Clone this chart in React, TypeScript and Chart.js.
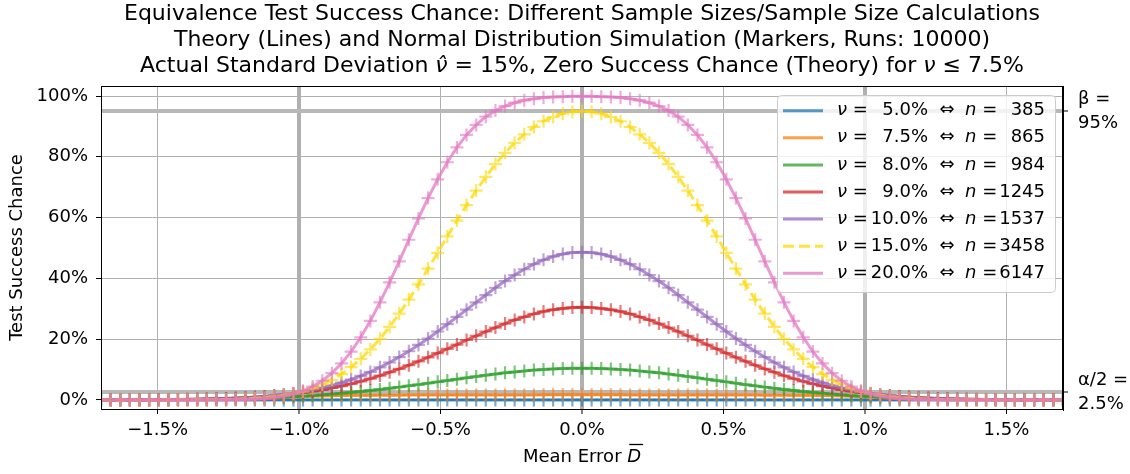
import React, { useEffect, useRef } from "react";
import { Chart, registerables } from "chart.js";

Chart.register(...registerables);

const FONT = "'DejaVu Sans', sans-serif";

// Mean error D (percent), sample points of theory lines and simulation markers
const xValues = [
  -1.7, -1.666, -1.632, -1.598, -1.564, -1.53, -1.496, -1.462, -1.428, -1.394,
  -1.36, -1.326, -1.292, -1.258, -1.224, -1.19, -1.156, -1.122, -1.088, -1.054,
  -1.02, -0.986, -0.952, -0.918, -0.884, -0.85, -0.816, -0.782, -0.748, -0.714,
  -0.68, -0.646, -0.612, -0.578, -0.544, -0.51, -0.476, -0.442, -0.408, -0.374,
  -0.34, -0.306, -0.272, -0.238, -0.204, -0.17, -0.136, -0.102, -0.068, -0.034,
  0,
  0.034, 0.068, 0.102, 0.136, 0.17, 0.204, 0.238, 0.272, 0.306, 0.34,
  0.374, 0.408, 0.442, 0.476, 0.51, 0.544, 0.578, 0.612, 0.646, 0.68,
  0.714, 0.748, 0.782, 0.816, 0.85, 0.884, 0.918, 0.952, 0.986, 1.02,
  1.054, 1.088, 1.122, 1.156, 1.19, 1.224, 1.258, 1.292, 1.326, 1.36,
  1.394, 1.428, 1.462, 1.496, 1.53, 1.564, 1.598, 1.632, 1.666, 1.7,
];

const xTicks = [-1.5, -1.0, -0.5, 0.0, 0.5, 1.0, 1.5];
const thickXTicks = [-1.0, 0.0, 1.0];
const yTicks = [0, 20, 40, 60, 80, 100];
const limitTicks = [2.5, 95];
const limitLabels = [["α/2 =", "2.5%"], ["β =", "95%"]];

const titleLine1 = "Equivalence Test Success Chance: Different Sample Sizes/Sample Size Calculations";
const titleLine2 = "Theory (Lines) and Normal Distribution Simulation (Markers, Runs: 10000)";

const nuLabels = ["5.0%", "7.5%", "8.0%", "9.0%", "10.0%", "15.0%", "20.0%"];
const nLabels = ["385", "865", "984", "1245", "1537", "3458", "6147"];
const seriesColors = [
  [31, 119, 180],
  [255, 127, 14],
  [44, 160, 44],
  [214, 39, 40],
  [148, 103, 189],
  [255, 215, 0],
  [227, 119, 194],
];
const seriesDashed = [false, false, false, false, false, true, false];

// Test success chance (%) per series
const nu5 = [
  0, 0, 0, 0, 0, 0, 0, 0, 0, 0, 0, 0, 0, 0, 0, 0, 0, 0, 0, 0, 0, 0, 0, 0, 0,
  0, 0, 0, 0, 0, 0, 0, 0, 0, 0, 0, 0, 0, 0, 0, 0, 0, 0, 0, 0, 0, 0, 0, 0, 0,
  0,
  0, 0, 0, 0, 0, 0, 0, 0, 0, 0, 0, 0, 0, 0, 0, 0, 0, 0, 0, 0, 0, 0, 0, 0, 0,
  0, 0, 0, 0, 0, 0, 0, 0, 0, 0, 0, 0, 0, 0, 0, 0, 0, 0, 0, 0, 0, 0, 0, 0, 0,
];

const nu75 = [
  0, 0, 0, 0, 0, 0, 0, 0, 0.01, 0.01, 0.02,
  0.04, 0.06, 0.09, 0.14, 0.2, 0.3, 0.4, 0.55, 0.75, 0.9,
  1.05, 1.2, 1.3, 1.4, 1.45, 1.5, 1.5, 1.5, 1.55, 1.55,
  1.55, 1.6, 1.6, 1.6, 1.6, 1.6, 1.6, 1.6, 1.6, 1.6,
  1.6, 1.6, 1.6, 1.6, 1.6, 1.65, 1.65, 1.7, 1.7,
  1.7,
  1.7, 1.7, 1.65, 1.65, 1.6, 1.6, 1.6, 1.6, 1.6,
  1.6, 1.6, 1.6, 1.6, 1.6, 1.6, 1.6, 1.6, 1.6, 1.55,
  1.55, 1.55, 1.5, 1.5, 1.5, 1.45, 1.4, 1.3, 1.2, 1.05,
  0.9, 0.75, 0.55, 0.4, 0.3, 0.2, 0.14, 0.09, 0.06, 0.04,
  0.02, 0.01, 0.01, 0, 0, 0, 0, 0, 0, 0, 0,
];

const nu8 = [
  0.02, 0.03, 0.03, 0.04, 0.05, 0.07, 0.08, 0.1, 0.13, 0.15, 0.18,
  0.22, 0.28, 0.33, 0.4, 0.48, 0.57, 0.68, 0.8, 0.93, 1.09,
  1.26, 1.46, 1.66, 1.92, 2.19, 2.46, 2.75, 3.12, 3.44, 3.81,
  4.2, 4.62, 5.02, 5.47, 5.93, 6.36, 6.8, 7.25, 7.7, 8.1,
  8.5, 8.9, 9.2, 9.5, 9.8, 10.0, 10.2, 10.3, 10.4,
  10.4,
  10.4, 10.3, 10.2, 10.0, 9.8, 9.5, 9.2, 8.9, 8.5,
  8.1, 7.7, 7.25, 6.8, 6.36, 5.93, 5.47, 5.02, 4.62, 4.2,
  3.81, 3.44, 3.12, 2.75, 2.46, 2.19, 1.92, 1.66, 1.46, 1.26,
  1.09, 0.93, 0.8, 0.68, 0.57, 0.48, 0.4, 0.33, 0.28, 0.22,
  0.18, 0.15, 0.13, 0.1, 0.08, 0.07, 0.05, 0.04, 0.03, 0.03, 0.02,
];

const nu9 = [
  0.02, 0.02, 0.03, 0.04, 0.05, 0.07, 0.09, 0.12, 0.15, 0.19, 0.24,
  0.3, 0.38, 0.47, 0.59, 0.73, 0.91, 1.11, 1.35, 1.64, 1.98,
  2.37, 2.82, 3.32, 3.91, 4.56, 5.3, 6.1, 7.0, 8.0, 9.1,
  10.2, 11.4, 12.7, 14.0, 15.4, 16.8, 18.2, 19.7, 21.1, 22.5,
  23.8, 25.1, 26.3, 27.3, 28.3, 29.1, 29.7, 30.1, 30.4,
  30.5,
  30.4, 30.1, 29.7, 29.1, 28.3, 27.3, 26.3, 25.1, 23.8,
  22.5, 21.1, 19.7, 18.2, 16.8, 15.4, 14.0, 12.7, 11.4, 10.2,
  9.1, 8.0, 7.0, 6.1, 5.3, 4.56, 3.91, 3.32, 2.82, 2.37,
  1.98, 1.64, 1.35, 1.11, 0.91, 0.73, 0.59, 0.47, 0.38, 0.3,
  0.24, 0.19, 0.15, 0.12, 0.09, 0.07, 0.05, 0.04, 0.03, 0.02, 0.02,
];

const nu10 = [
  0.01, 0.01, 0.02, 0.02, 0.03, 0.04, 0.06, 0.08, 0.1, 0.14, 0.19,
  0.25, 0.32, 0.42, 0.55, 0.7, 0.89, 1.12, 1.41, 1.75, 2.17,
  2.66, 3.25, 3.93, 4.73, 5.65, 6.7, 7.9, 9.2, 10.7, 12.3,
  14.1, 16.0, 18.1, 20.2, 22.5, 24.9, 27.3, 29.7, 32.1, 34.5,
  36.9, 39.1, 41.1, 43.0, 44.7, 46.1, 47.2, 48.0, 48.5,
  48.6,
  48.5, 48.0, 47.2, 46.1, 44.7, 43.0, 41.1, 39.1, 36.9,
  34.5, 32.1, 29.7, 27.3, 24.9, 22.5, 20.2, 18.1, 16.0, 14.1,
  12.3, 10.7, 9.2, 7.9, 6.7, 5.65, 4.73, 3.93, 3.25, 2.66,
  2.17, 1.75, 1.41, 1.12, 0.89, 0.7, 0.55, 0.42, 0.32, 0.25,
  0.19, 0.14, 0.1, 0.08, 0.06, 0.04, 0.03, 0.02, 0.02, 0.01, 0.01,
];

const nu15 = [
  0, 0, 0, 0, 0, 0, 0, 0.01, 0.01, 0.02, 0.04,
  0.06, 0.1, 0.15, 0.23, 0.34, 0.51, 0.74, 1.06, 1.5, 2.1,
  2.8, 3.8, 5.1, 6.6, 8.5, 10.8, 13.5, 16.6, 20.1, 24.0,
  28.4, 33.0, 38.0, 43.2, 48.4, 53.8, 59.0, 64.1, 68.9, 73.4,
  77.6, 81.3, 84.6, 87.4, 89.8, 91.7, 93.1, 94.2, 94.8,
  95.0,
  94.8, 94.2, 93.1, 91.7, 89.8, 87.4, 84.6, 81.3, 77.6,
  73.4, 68.9, 64.1, 59.0, 53.8, 48.4, 43.2, 38.0, 33.0, 28.4,
  24.0, 20.1, 16.6, 13.5, 10.8, 8.5, 6.6, 5.1, 3.8, 2.8,
  2.1, 1.5, 1.06, 0.74, 0.51, 0.34, 0.23, 0.15, 0.1, 0.06,
  0.04, 0.02, 0.01, 0.01, 0, 0, 0, 0, 0, 0, 0,
];

const nu20 = [
  0, 0, 0, 0, 0, 0, 0, 0, 0, 0, 0,
  0.01, 0.03, 0.05, 0.09, 0.16, 0.28, 0.47, 0.78, 1.25, 1.95,
  3.0, 4.4, 6.3, 8.8, 12.0, 15.9, 20.6, 26.0, 32.1, 38.7,
  45.6, 52.7, 59.7, 66.4, 72.6, 78.2, 83.1, 87.2, 90.5, 93.2,
  95.2, 96.7, 97.8, 98.6, 99.1, 99.5, 99.7, 99.8, 99.9,
  99.9,
  99.9, 99.8, 99.7, 99.5, 99.1, 98.6, 97.8, 96.7, 95.2,
  93.2, 90.5, 87.2, 83.1, 78.2, 72.6, 66.4, 59.7, 52.7, 45.6,
  38.7, 32.1, 26.0, 20.6, 15.9, 12.0, 8.8, 6.3, 4.4, 3.0,
  1.95, 1.25, 0.78, 0.47, 0.28, 0.16, 0.09, 0.05, 0.03, 0.01,
  0, 0, 0, 0, 0, 0, 0, 0, 0, 0, 0,
];

const seriesValues = [nu5, nu75, nu8, nu9, nu10, nu15, nu20];

const rgba = (c: number[], a: number) => `rgba(${c[0]},${c[1]},${c[2]},${a})`;

type Seg = [string, boolean];
function drawSegs(
  ctx: CanvasRenderingContext2D,
  segs: Seg[],
  x: number,
  y: number,
  align: "left" | "center" | "right",
  size: number
) {
  const fonts = segs.map(([, it]) => `${it ? "italic " : ""}${size}px ${FONT}`);
  const widths = segs.map(([t], i) => {
    ctx.font = fonts[i];
    return ctx.measureText(t).width;
  });
  const total = widths.reduce((a, b) => a + b, 0);
  let cx = align === "left" ? x : align === "center" ? x - total / 2 : x - total;
  const starts: number[] = [];
  ctx.textAlign = "left";
  ctx.textBaseline = "middle";
  segs.forEach(([t], i) => {
    ctx.font = fonts[i];
    starts.push(cx);
    ctx.fillText(t, cx, y);
    cx += widths[i];
  });
  return { starts, widths };
}

const overlayPlugin = {
  id: "overlay",
  afterDraw(chart: any) {
    const { ctx, chartArea: a } = chart;
    ctx.save();
    // axes frame
    ctx.strokeStyle = "#000";
    ctx.lineWidth = 1;
    ctx.strokeRect(a.left + 0.5, a.top + 0.5, a.right - a.left - 1, a.bottom - a.top);

    // title
    const cx = (a.left + a.right) / 2;
    ctx.fillStyle = "#000";
    drawSegs(ctx, [[titleLine1, false]], cx, 14, "center", 22);
    drawSegs(ctx, [[titleLine2, false]], cx, 40, "center", 22);
    drawSegs(
      ctx,
      [
        ["Actual Standard Deviation ", false],
        ["\u03bd\u0302", true],
        [" = 15%, Zero Success Chance (Theory) for ", false],
        ["\u03bd", true],
        [" \u2264 7.5%", false],
      ],
      cx,
      66,
      "center",
      22
    );

    // x-axis title
    const xt = drawSegs(ctx, [["Mean Error ", false], ["D", true]], cx, 457, "center", 18);
    ctx.beginPath();
    ctx.lineWidth = 1.3;
    ctx.moveTo(xt.starts[1] + 2, 444.5);
    ctx.lineTo(xt.starts[1] + xt.widths[1] + 2, 444.5);
    ctx.stroke();

    // legend
    const bx = a.right - 286;
    const by = a.top + 9;
    const bw = 278;
    const bh = 197;
    ctx.beginPath();
    ctx.roundRect(bx + 0.5, by + 0.5, bw, bh, 4);
    ctx.fillStyle = "rgba(255,255,255,0.8)";
    ctx.fill();
    ctx.strokeStyle = "#cccccc";
    ctx.lineWidth = 1;
    ctx.stroke();
    for (let i = 0; i < nuLabels.length; i++) {
      const y = a.top + 24.7 + i * 27.1;
      ctx.beginPath();
      ctx.strokeStyle = rgba(seriesColors[i], 0.75);
      ctx.lineWidth = 3;
      ctx.setLineDash(seriesDashed[i] ? [11, 5] : []);
      ctx.moveTo(a.right - 280, y);
      ctx.lineTo(a.right - 240, y);
      ctx.stroke();
      ctx.setLineDash([]);
      ctx.fillStyle = "#000";
      drawSegs(ctx, [["\u03bd", true], [" =", false]], a.right - 226, y, "left", 18);
      drawSegs(ctx, [[nuLabels[i], false]], a.right - 135, y, "right", 18);
      drawSegs(ctx, [["\u21d4", false]], a.right - 116, y, "center", 18);
      drawSegs(ctx, [["n", true], [" =", false]], a.right - 98, y, "left", 18);
      drawSegs(ctx, [[nLabels[i], false]], a.right - 18, y, "right", 18);
    }
    ctx.restore();
  },
};

export default function App() {
  const ref = useRef<HTMLCanvasElement>(null);
  useEffect(() => {
    document.body.style.margin = "0";
    document.body.style.overflow = "hidden";
    if (!ref.current) return;
    Chart.defaults.font.family = FONT;
    Chart.defaults.color = "#000";

    const datasets = seriesValues.map((vals, i) => ({
      label: nuLabels[i],
      data: xValues.map((x, k) => ({ x, y: vals[k] })),
      borderColor: rgba(seriesColors[i], 0.75),
      borderWidth: 3,
      borderDash: seriesDashed[i] ? [10, 5] : [],
      pointStyle: "cross",
      pointRadius: 6.5,
      pointHoverRadius: 6.5,
      pointBorderWidth: 2.2,
      pointBorderColor: rgba(seriesColors[i], 0.6),
      pointBackgroundColor: "rgba(0,0,0,0)",
      fill: false,
      tension: 0,
      order: seriesValues.length - 1 - i,
    }));

    const chart = new Chart(ref.current, {
      type: "line",
      data: { datasets } as any,
      plugins: [overlayPlugin],
      options: {
        animation: false,
        responsive: true,
        maintainAspectRatio: false,
        layout: { padding: { top: 86, left: 0, right: 0, bottom: 0 } },
        plugins: {
          legend: { display: false },
          title: { display: false },
          tooltip: { enabled: false },
        },
        scales: {
          x: {
            type: "linear",
            min: -1.7,
            max: 1.7,
            afterBuildTicks: (s: any) => {
              s.ticks = xTicks.map((v) => ({ value: v }));
            },
            afterFit: (s: any) => {
              s.height = 65;
            },
            ticks: {
              autoSkip: false,
              maxRotation: 0,
              padding: 6,
              font: { size: 18 },
              color: "#000",
              callback: (v: any) => (v < 0 ? "\u2212" : "") + Math.abs(v).toFixed(1) + "%",
            },
            grid: {
              color: "#b0b0b0",
              lineWidth: (c: any) => (c.tick && thickXTicks.includes(c.tick.value) ? 4 : 1),
              tickColor: "#000",
              tickWidth: 1,
              tickLength: 5,
            },
            border: { color: "#000", width: 1 },
          },
          y: {
            type: "linear",
            position: "left",
            min: -3,
            max: 103.3,
            afterBuildTicks: (s: any) => {
              s.ticks = yTicks.map((v) => ({ value: v }));
            },
            afterFit: (s: any) => {
              s.width = 101;
            },
            ticks: {
              padding: 8,
              font: { size: 18 },
              color: "#000",
              callback: (v: any) => v + "%",
            },
            grid: {
              color: "#b0b0b0",
              lineWidth: 1,
              tickColor: "#000",
              tickWidth: 1,
              tickLength: 5,
            },
            border: { color: "#000", width: 1 },
            title: {
              display: true,
              text: "Test Success Chance",
              font: { size: 18 },
              color: "#000",
              padding: { top: 7, bottom: 0 },
            },
          },
          y2: {
            type: "linear",
            position: "right",
            min: -3,
            max: 103.3,
            afterBuildTicks: (s: any) => {
              s.ticks = limitTicks.map((v) => ({ value: v }));
            },
            afterFit: (s: any) => {
              s.width = 67;
            },
            ticks: {
              padding: 10,
              font: { size: 18, lineHeight: 1.35 },
              color: "#000",
              callback: (v: any) => limitLabels[limitTicks.indexOf(v)] || "",
            },
            grid: {
              drawOnChartArea: true,
              color: "#b8b8b8",
              lineWidth: 4,
              tickColor: "#000",
              tickWidth: 1,
              tickLength: 5,
            },
            border: { color: "#000", width: 1 },
          },
        },
      } as any,
    });
    return () => chart.destroy();
  }, []);

  return (
    <div style={{ width: 1130, height: 474, position: "relative" }}>
      <canvas ref={ref} />
    </div>
  );
}
